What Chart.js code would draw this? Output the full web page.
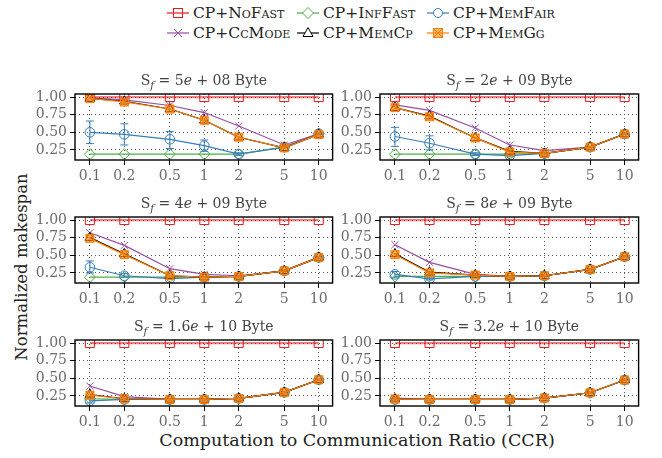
<!DOCTYPE html>
<html lang="en">
<head>
<meta charset="UTF-8">
<title>Normalized makespan</title>
<script src="https://cdn.jsdelivr.net/npm/chart.js@4.4.0/dist/chart.umd.min.js"></script>
<style>
	body { margin:0; background:#fff; width:662px; height:458px; position:relative; overflow:hidden; font-family:"DejaVu Serif", serif; }
	.panel { position:absolute; }
	.item { position:absolute; display:flex; align-items:center; height:20px; font-size:15.5px; font-variant:small-caps; color:#222; white-space:nowrap; }
	.item svg { margin-right:4px; }
	#ylab { position:absolute; font-size:16.5px; color:#222; left:21px; top:267px; transform:translate(-50%,-50%) rotate(-90deg); white-space:nowrap; }
	#xlab { position:absolute; font-size:17.5px; color:#222; left:357px; top:440px; transform:translate(-50%,-50%); white-space:nowrap; }
</style>
</head>
<body>
<div id="legend"></div>
<div id="ylab">Normalized makespan</div>
<div id="xlab">Computation to Communication Ratio (CCR)</div>
<script>
	// data, one row per panel
	const ccr = [0.1, 0.2, 0.5, 1, 2, 5, 10];
	const yTicks = [0.25, 0.5, 0.75, 1.0];
	const sizeMantissa = ['5', '2', '4', '8', '1.6', '3.2'];
	const sizeExponent = ['08', '09', '09', '09', '10', '10'];
	const seriesNames = ['CP+NoFast', 'CP+InfFast', 'CP+MemFair', 'CP+CcMode', 'CP+MemCp', 'CP+MemGg'];

	const noFast = [
		[1, 1, 1, 1, 1, 1, 1], [1, 1, 1, 1, 1, 1, 1], [1, 1, 1, 1, 1, 1, 1],
		[1, 1, 1, 1, 1, 1, 1], [1, 1, 1, 1, 1, 1, 1], [1, 1, 1, 1, 1, 1, 1]
	];
	const infFast = [
		[0.19, 0.19, 0.19, 0.19, 0.19, 0.29, 0.48],
		[0.19, 0.19, 0.19, 0.19, 0.20, 0.29, 0.475],
		[0.19, 0.19, 0.19, 0.19, 0.20, 0.28, 0.47],
		[0.20, 0.20, 0.20, 0.20, 0.21, 0.30, 0.48],
		[0.21, 0.20, 0.20, 0.20, 0.215, 0.30, 0.48],
		[0.20, 0.20, 0.20, 0.20, 0.22, 0.295, 0.475]
	];
	const memFair = [
		[0.50, 0.47, 0.40, 0.31, 0.19, 0.29, 0.48],
		[0.44, 0.345, 0.19, 0.17, 0.20, 0.29, 0.475],
		[0.33, 0.21, 0.17, 0.19, 0.20, 0.28, 0.47],
		[0.23, 0.165, 0.20, 0.20, 0.21, 0.30, 0.48],
		[0.18, 0.20, 0.20, 0.20, 0.215, 0.30, 0.48],
		[0.20, 0.20, 0.20, 0.20, 0.22, 0.295, 0.475]
	];
	const memFairLow = [
		[0.34, 0.32, 0.27, 0.23, 0.17, 0.28, 0.47],
		[0.30, 0.25, 0.17, 0.15, 0.19, 0.28, 0.465],
		[0.25, 0.19, 0.16, 0.18, 0.19, 0.27, 0.46],
		[0.19, 0.15, 0.19, 0.19, 0.20, 0.29, 0.47],
		[0.15, 0.19, 0.19, 0.19, 0.205, 0.29, 0.47],
		[0.19, 0.19, 0.19, 0.19, 0.21, 0.285, 0.465]
	];
	const memFairHigh = [
		[0.66, 0.62, 0.51, 0.39, 0.21, 0.30, 0.49],
		[0.57, 0.45, 0.21, 0.19, 0.21, 0.30, 0.485],
		[0.42, 0.24, 0.18, 0.20, 0.21, 0.29, 0.48],
		[0.27, 0.19, 0.21, 0.21, 0.22, 0.31, 0.49],
		[0.21, 0.21, 0.21, 0.21, 0.225, 0.31, 0.49],
		[0.21, 0.21, 0.21, 0.21, 0.23, 0.305, 0.485]
	];
	const ccMode = [
		[0.99, 0.96, 0.88, 0.78, 0.59, 0.32, 0.48],
		[0.89, 0.81, 0.56, 0.32, 0.24, 0.29, 0.475],
		[0.82, 0.64, 0.31, 0.23, 0.21, 0.28, 0.47],
		[0.65, 0.40, 0.23, 0.20, 0.21, 0.30, 0.48],
		[0.39, 0.24, 0.20, 0.20, 0.215, 0.30, 0.48],
		[0.22, 0.20, 0.20, 0.20, 0.22, 0.295, 0.475]
	];
	const memCp = [
		[0.98, 0.94, 0.83, 0.67, 0.43, 0.28, 0.47],
		[0.85, 0.73, 0.42, 0.23, 0.20, 0.29, 0.475],
		[0.75, 0.52, 0.21, 0.19, 0.20, 0.28, 0.47],
		[0.52, 0.26, 0.22, 0.20, 0.21, 0.30, 0.48],
		[0.27, 0.21, 0.20, 0.20, 0.215, 0.30, 0.48],
		[0.205, 0.20, 0.20, 0.20, 0.22, 0.295, 0.475]
	];
	const memGg = [
		[0.98, 0.93, 0.83, 0.67, 0.43, 0.28, 0.47],
		[0.85, 0.72, 0.42, 0.22, 0.20, 0.29, 0.475],
		[0.74, 0.51, 0.21, 0.19, 0.20, 0.28, 0.47],
		[0.51, 0.25, 0.22, 0.20, 0.21, 0.30, 0.48],
		[0.26, 0.21, 0.20, 0.20, 0.215, 0.30, 0.48],
		[0.205, 0.20, 0.20, 0.20, 0.22, 0.295, 0.475]
	];

	const RED = '#e41a1c', GREEN = '#4daf4a', BLUE = '#377eb8', PURPLE = '#984ea3', BLACK = '#000', ORANGE = '#ff7f00';
	const FONT = '"DejaVu Serif", serif';

	Chart.defaults.font.family = FONT;
	Chart.defaults.font.size = 14;
	Chart.defaults.color = '#6a6a6a';

	// square with a cross, for MemGg
	const ggMarker = () => {
		const c = document.createElement('canvas');
		c.width = 11; c.height = 11;
		const x = c.getContext('2d');
		x.fillStyle = 'rgba(255,127,0,0.55)';
		x.fillRect(1, 1, 9, 9);
		x.strokeStyle = ORANGE;
		x.lineWidth = 1;
		x.strokeRect(1.5, 1.5, 8, 8);
		x.beginPath();
		x.moveTo(1.5, 1.5); x.lineTo(9.5, 9.5);
		x.moveTo(9.5, 1.5); x.lineTo(1.5, 9.5);
		x.stroke();
		return c;
	};

	// legend (html + svg markers)
	const legendMarks = [
		`<line x1="0" y1="10" x2="22" y2="10" stroke="${RED}" stroke-opacity="0.6" stroke-width="2"/><rect x="6.5" y="5.5" width="9" height="9" fill="none" stroke="${RED}"/>`,
		`<line x1="0" y1="10" x2="22" y2="10" stroke="${GREEN}" stroke-width="1.2"/><path d="M11 4.5 L16.5 10 L11 15.5 L5.5 10 Z" fill="#fff" stroke="${GREEN}"/>`,
		`<line x1="0" y1="10" x2="22" y2="10" stroke="${BLUE}" stroke-width="1.2"/><circle cx="11" cy="10" r="4.5" fill="#fff" stroke="${BLUE}"/>`,
		`<line x1="0" y1="10" x2="22" y2="10" stroke="${PURPLE}" stroke-width="1.2"/><path d="M7 6 L15 14 M15 6 L7 14" stroke="${PURPLE}"/>`,
		`<line x1="0" y1="10" x2="22" y2="10" stroke="${BLACK}" stroke-width="1.2"/><path d="M11 4.5 L16 13.5 L6 13.5 Z" fill="#fff" stroke="${BLACK}"/>`,
		`<line x1="0" y1="10" x2="22" y2="10" stroke="${ORANGE}" stroke-width="1.2"/><rect x="6.5" y="5.5" width="9" height="9" fill="rgba(255,127,0,0.55)" stroke="${ORANGE}"/><path d="M6.5 5.5 L15.5 14.5 M15.5 5.5 L6.5 14.5" stroke="${ORANGE}"/>`
	];
	const legendX = [167, 297, 427];
	const legendY = [3, 23];
	const legend = document.querySelector('#legend');
	seriesNames.forEach((name, i) => {
		const d = document.createElement('div');
		d.className = 'item';
		d.style.left = legendX[i % 3] + 'px';
		d.style.top = legendY[Math.floor(i / 3)] + 'px';
		d.innerHTML = `<svg width="22" height="20">${legendMarks[i]}</svg><span>${name}</span>`;
		legend.appendChild(d);
	});

	const titlePlugin = {
		id: 'panelTitle',
		afterDraw(chart, args, opts) {
			const { ctx, chartArea } = chart;
			const parts = [
				{ t: 'S', f: `14px ${FONT}`, dy: 0 },
				{ t: 'f', f: `italic 10.5px ${FONT}`, dy: 4 },
				{ t: ' = ' + opts.mant, f: `14px ${FONT}`, dy: 0 },
				{ t: 'e', f: `italic 14px ${FONT}`, dy: 0 },
				{ t: ' + ' + opts.exp + ' Byte', f: `14px ${FONT}`, dy: 0 }
			];
			ctx.save();
			let w = 0;
			parts.forEach(p => { ctx.font = p.f; p.w = ctx.measureText(p.t).width; w += p.w; });
			let x = (chartArea.left + chartArea.right) / 2 - w / 2;
			const y = chartArea.top - 9;
			ctx.fillStyle = '#444';
			ctx.textBaseline = 'alphabetic';
			parts.forEach(p => { ctx.font = p.f; ctx.fillText(p.t, x, y + p.dy); x += p.w; });
			// box round the plot
			ctx.strokeStyle = '#000';
			ctx.lineWidth = 1.4;
			ctx.strokeRect(chartArea.left, chartArea.top, chartArea.right - chartArea.left, chartArea.bottom - chartArea.top);
			ctx.restore();
		}
	};

	const errorBarPlugin = {
		id: 'errorBars',
		afterDatasetDraw(chart, args) {
			const ds = chart.data.datasets[args.index];
			if (!ds.errLow) return;
			const { ctx } = chart;
			const y = chart.scales.y;
			const meta = args.meta;
			ctx.save();
			ctx.strokeStyle = ds.pointBorderColor;
			ctx.lineWidth = 1;
			meta.data.forEach((pt, i) => {
				const y0 = y.getPixelForValue(ds.errLow[i]);
				const y1 = y.getPixelForValue(ds.errHigh[i]);
				ctx.beginPath();
				ctx.moveTo(pt.x, y0); ctx.lineTo(pt.x, y1);
				ctx.moveTo(pt.x - 4, y0); ctx.lineTo(pt.x + 4, y0);
				ctx.moveTo(pt.x - 4, y1); ctx.lineTo(pt.x + 4, y1);
				ctx.stroke();
			});
			ctx.restore();
		}
	};

	const colLeft = [25, 330];
	const colWidth = [315, 316];
	const rowTop = [94, 217, 340];
	const TOP_PAD = 30, PLOT_H = 66, X_AXIS_H = 24, Y_AXIS_W = 50;

	const toPoints = arr => arr.map((v, i) => ({ x: ccr[i], y: v }));

	for (let p = 0; p < 6; p++) {
		const col = p % 2, row = Math.floor(p / 2);
		const canvas = document.createElement('canvas');
		canvas.className = 'panel';
		canvas.style.left = colLeft[col] + 'px';
		canvas.style.top = (rowTop[row] - TOP_PAD) + 'px';
		canvas.style.width = colWidth[col] + 'px';
		canvas.style.height = (TOP_PAD + PLOT_H + X_AXIS_H) + 'px';
		document.body.appendChild(canvas);

		const line = (data, color, style, radius, extra) => Object.assign({
			data: toPoints(data),
			borderColor: color,
			borderWidth: 1.2,
			pointStyle: style,
			pointRadius: radius,
			pointBorderColor: color,
			pointBackgroundColor: 'rgba(255,255,255,0)',
			pointBorderWidth: 1
		}, extra || {});

		const datasets = [
			line(noFast[p], 'rgba(228,26,28,0.55)', 'rect', 6.4, { borderWidth: 2.2, pointBorderColor: RED, order: 5 }),
			line(infFast[p], GREEN, 'rectRot', 5.5, { order: 4 }),
			line(memFair[p], BLUE, 'circle', 4.8, { order: 3, errLow: memFairLow[p], errHigh: memFairHigh[p] }),
			line(ccMode[p], PURPLE, 'crossRot', 5, { order: 2 }),
			line(memCp[p], BLACK, 'triangle', 5.5, { order: 1 }),
			line(memGg[p], ORANGE, ggMarker(), 5, { order: 0 })
		];

		new Chart(canvas, {
			type: 'line',
			data: { datasets },
			options: {
				responsive: false,
				animation: false,
				events: [],
				layout: { padding: { top: TOP_PAD, right: colWidth[col] - Y_AXIS_W - 260 - (col ? 1 : 0), left: 0, bottom: 0 } },
				plugins: {
					legend: { display: false },
					tooltip: { enabled: false },
					panelTitle: { mant: sizeMantissa[p], exp: sizeExponent[p] }
				},
				scales: {
					x: {
						type: 'logarithmic',
						min: 0.0741,
						max: 13.22,
						afterBuildTicks: s => { s.ticks = ccr.map(v => ({ value: v })); },
						afterFit: s => { s.height = X_AXIS_H; s.paddingLeft = 0; s.paddingRight = 0; },
						ticks: { callback: v => String(v), autoSkip: false, maxRotation: 0, padding: 3 },
						grid: { color: '#555', lineWidth: 1, tickLength: 5, tickColor: '#000', tickWidth: 1 },
						border: { display: false, dash: [1, 3] }
					},
					y: {
						min: 0.107,
						max: 1.043,
						afterBuildTicks: s => { s.ticks = yTicks.map(v => ({ value: v })); },
						afterFit: s => { s.width = Y_AXIS_W; s.paddingTop = 0; s.paddingBottom = 0; },
						ticks: { callback: v => v.toFixed(2), autoSkip: false, padding: 3 },
						grid: { color: '#555', lineWidth: 1, tickLength: 5, tickColor: '#000', tickWidth: 1 },
						border: { display: false, dash: [1, 3] }
					}
				}
			},
			plugins: [titlePlugin, errorBarPlugin]
		});
	}
</script>
</body>
</html>
